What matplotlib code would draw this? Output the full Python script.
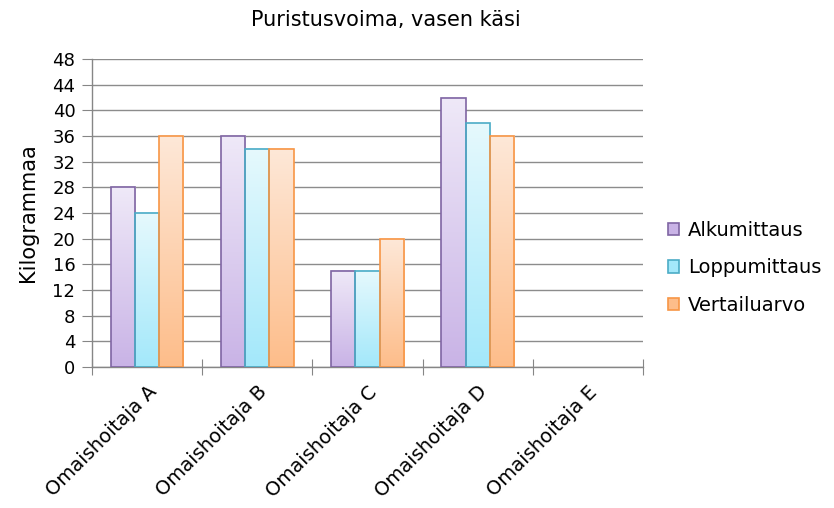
import numpy as np
import matplotlib
matplotlib.use("Agg")
import matplotlib.pyplot as plt
from matplotlib.colors import LinearSegmentedColormap
from matplotlib.patches import Patch

plt.rcParams['font.family'] = ['DejaVu Sans']

categories = ["Omaishoitaja A", "Omaishoitaja B", "Omaishoitaja C",
              "Omaishoitaja D", "Omaishoitaja E"]
series_names = ["Alkumittaus", "Loppumittaus", "Vertailuarvo"]
alkumittaus = [28, 36, 15, 42, np.nan]
loppumittaus = [24, 34, 15, 38, np.nan]
vertailuarvo = [36, 34, 20, 36, np.nan]
y_ticks = list(range(0, 49, 4))

# (bottom colour, top colour, edge colour) for each series
styles = [
    ("#c9b3e6", "#efe9f8", "#7f65a3"),
    ("#a3e8fa", "#e6f9fd", "#4bacc6"),
    ("#fdbd8a", "#fee8d8", "#f79646"),
]

fig = plt.figure(figsize=(8.34, 5.08), dpi=100)
ax = fig.add_axes([92 / 834, 1 - 367 / 508, 551 / 834, 308 / 508])

x = np.arange(len(categories))
width = 0.22
grad = np.linspace(0, 1, 256).reshape(-1, 1)

for i, (vals, (c_bot, c_top, c_edge)) in enumerate(
        zip([alkumittaus, loppumittaus, vertailuarvo], styles)):
    cmap = LinearSegmentedColormap.from_list(f"g{i}", [c_bot, c_top])
    offs = (i - 1) * width
    bars = ax.bar(x + offs, vals, width, facecolor="none",
                  edgecolor=c_edge, linewidth=1.2, zorder=3)
    for b, v in zip(bars, vals):
        if np.isnan(v):
            continue
        x0, w, h = b.get_x(), b.get_width(), b.get_height()
        ax.imshow(grad, cmap=cmap, origin="lower", aspect="auto",
                  extent=(x0, x0 + w, 0, h), zorder=2)

ax.set_xlim(-0.5, len(categories) - 0.5)
ax.set_ylim(0, 48)
ax.set_yticks(y_ticks)
ax.tick_params(axis="y", labelsize=13, length=7, color="#868686", pad=5)
ax.yaxis.grid(True, color="#8c8c8c", linewidth=1)
ax.set_axisbelow(True)

for s in ["top", "right"]:
    ax.spines[s].set_visible(False)
for s in ["left", "bottom"]:
    ax.spines[s].set_color("#868686")
    ax.spines[s].set_linewidth(1)

# category boundary ticks on x axis
ax.set_xticks(np.arange(-0.5, len(categories), 1.0))
ax.tick_params(axis="x", which="major", direction="inout", length=12,
               color="#868686", labelbottom=False)
ax.set_xticks(x, minor=True)
ax.set_xticklabels(categories, minor=True, rotation=45, ha="right",
                   va="top", rotation_mode="anchor", fontsize=14)
ax.tick_params(axis="x", which="minor", length=0, pad=11)

ax.set_ylabel("Kilogrammaa", fontsize=15, labelpad=10)
fig.text(386 / 834, 1 - 20 / 508,
         "Puristusvoima, vasen käsi", ha="center", va="center", fontsize=15)

handles = [Patch(facecolor=c_bot, edgecolor=c_edge, linewidth=1.2)
           for c_bot, _, c_edge in styles]
fig.legend(handles, series_names, loc="center left",
           bbox_to_anchor=(650 / 834, 1 - 268 / 508), frameon=False,
           fontsize=14, handlelength=0.6, handleheight=0.6,
           handletextpad=0.45, labelspacing=0.95)

fig.savefig("out.png", dpi=100)
